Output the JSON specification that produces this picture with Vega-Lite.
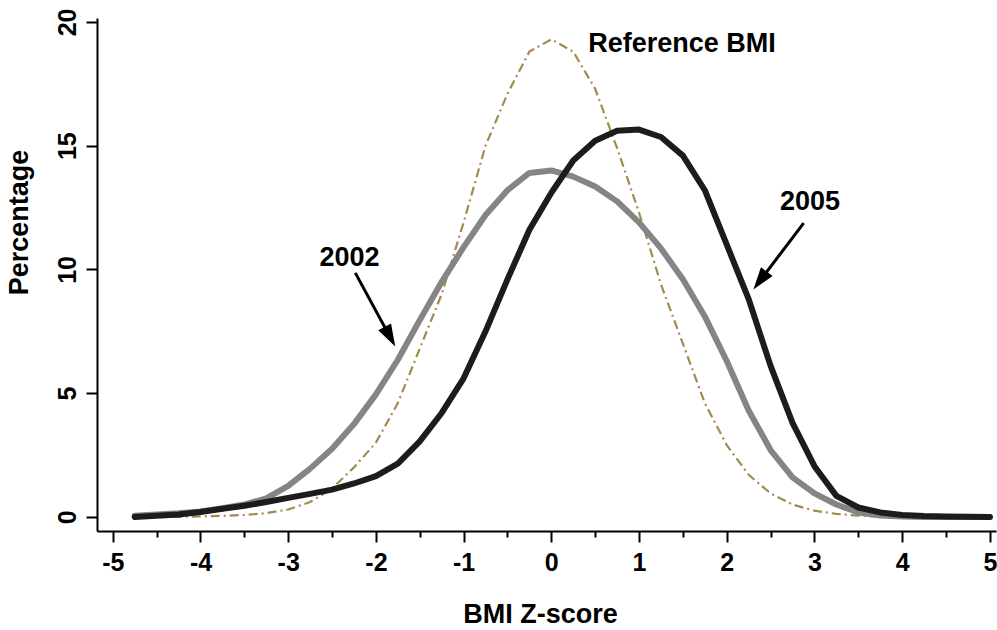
{
  "$schema": "https://vega.github.io/schema/vega-lite/v6.json",
  "width": 899,
  "height": 513,
  "autosize": {"type": "none"},
  "padding": {"left": 97, "top": 18, "right": 1, "bottom": 99},
  "background": "white",
  "config": {
    "view": {"stroke": null},
    "font": "Liberation Sans",
    "axis": {
      "domainColor": "#000000",
      "domainWidth": 2,
      "tickColor": "#000000",
      "tickWidth": 2,
      "grid": false,
      "labelFont": "Liberation Sans",
      "labelFontWeight": "bold",
      "labelFontSize": 25,
      "labelColor": "#000000",
      "titleFont": "Liberation Sans",
      "titleFontWeight": "bold",
      "titleFontSize": 27,
      "titleColor": "#000000"
    }
  },
  "datasets": {
    "curves": [
      {"z": -4.75, "ref": 0, "y2002": 0.05, "y2005": 0},
      {"z": -4.5, "ref": 0, "y2002": 0.1, "y2005": 0.05},
      {"z": -4.25, "ref": 0, "y2002": 0.15, "y2005": 0.1},
      {"z": -4, "ref": 0.02, "y2002": 0.22, "y2005": 0.2},
      {"z": -3.75, "ref": 0.04, "y2002": 0.35, "y2005": 0.33},
      {"z": -3.5, "ref": 0.08, "y2002": 0.5, "y2005": 0.45},
      {"z": -3.25, "ref": 0.15, "y2002": 0.75, "y2005": 0.6},
      {"z": -3, "ref": 0.3, "y2002": 1.25, "y2005": 0.77},
      {"z": -2.75, "ref": 0.6, "y2002": 1.95, "y2005": 0.93},
      {"z": -2.5, "ref": 1.15, "y2002": 2.75, "y2005": 1.1},
      {"z": -2.25, "ref": 2.0, "y2002": 3.75, "y2005": 1.35},
      {"z": -2, "ref": 3.0, "y2002": 4.95, "y2005": 1.65},
      {"z": -1.75, "ref": 4.6, "y2002": 6.35, "y2005": 2.15},
      {"z": -1.5, "ref": 6.8, "y2002": 7.95, "y2005": 3.05},
      {"z": -1.25, "ref": 9.0, "y2002": 9.5, "y2005": 4.2},
      {"z": -1, "ref": 11.9, "y2002": 10.9, "y2005": 5.6},
      {"z": -0.75, "ref": 15.0, "y2002": 12.2, "y2005": 7.5},
      {"z": -0.5, "ref": 17.1, "y2002": 13.2, "y2005": 9.6},
      {"z": -0.25, "ref": 18.8, "y2002": 13.9, "y2005": 11.6},
      {"z": 0, "ref": 19.3, "y2002": 14.0, "y2005": 13.1},
      {"z": 0.25, "ref": 18.8, "y2002": 13.75, "y2005": 14.4},
      {"z": 0.5, "ref": 17.3, "y2002": 13.35, "y2005": 15.2},
      {"z": 0.75, "ref": 14.9, "y2002": 12.75, "y2005": 15.6},
      {"z": 1, "ref": 12.3, "y2002": 11.9, "y2005": 15.65},
      {"z": 1.25, "ref": 9.4, "y2002": 10.85, "y2005": 15.35},
      {"z": 1.5, "ref": 7.0, "y2002": 9.6, "y2005": 14.6},
      {"z": 1.75, "ref": 4.6, "y2002": 8.1, "y2005": 13.2},
      {"z": 2, "ref": 2.9, "y2002": 6.3, "y2005": 11.0},
      {"z": 2.25, "ref": 1.7, "y2002": 4.3, "y2005": 8.8},
      {"z": 2.5, "ref": 0.95, "y2002": 2.7, "y2005": 6.1},
      {"z": 2.75, "ref": 0.5, "y2002": 1.6, "y2005": 3.8},
      {"z": 3, "ref": 0.25, "y2002": 0.95, "y2005": 2.05},
      {"z": 3.25, "ref": 0.12, "y2002": 0.5, "y2005": 0.85},
      {"z": 3.5, "ref": 0.05, "y2002": 0.18, "y2005": 0.38},
      {"z": 3.75, "ref": 0.02, "y2002": 0.06, "y2005": 0.18},
      {"z": 4, "ref": 0.01, "y2002": 0.02, "y2005": 0.08},
      {"z": 4.25, "ref": 0, "y2002": 0, "y2005": 0.04},
      {"z": 4.5, "ref": 0, "y2002": 0, "y2005": 0.02},
      {"z": 4.75, "ref": 0, "y2002": 0, "y2005": 0.01},
      {"z": 5, "ref": 0, "y2002": 0, "y2005": 0}
    ],
    "labels": [
      {"label": "Reference BMI", "z": 1.49, "pct": 18.79},
      {"label": "2002", "z": -2.30, "pct": 10.14},
      {"label": "2005", "z": 2.95, "pct": 12.40}
    ],
    "arrows": [
      {"series": "2002", "z": -2.235, "pct": 9.86, "z2": -1.84, "pct2": 7.28},
      {"series": "2005", "z": 2.877, "pct": 11.87, "z2": 2.38, "pct2": 9.55}
    ]
  },
  "layer": [
    {
      "data": {"name": "curves"},
      "mark": {"type": "line", "color": "#a38b4e", "strokeWidth": 2.2, "strokeDash": [9, 4, 2, 4]},
      "encoding": {
        "x": {
          "field": "z", "type": "quantitative",
          "scale": {"domain": [-5.18, 5.07], "nice": false, "zero": false},
          "axis": {
            "values": [-5, -4.75, -4.5, -4.25, -4, -3.75, -3.5, -3.25, -3, -2.75, -2.5, -2.25, -2, -1.75, -1.5, -1.25, -1, -0.75, -0.5, -0.25, 0, 0.25, 0.5, 0.75, 1, 1.25, 1.5, 1.75, 2, 2.25, 2.5, 2.75, 3, 3.25, 3.5, 3.75, 4, 4.25, 4.5, 4.75, 5],
            "labelExpr": "datum.value % 1 == 0 ? (datum.value < 0 ? '-' + abs(datum.value) : '' + datum.value) : ''",
            "tickSize": {"condition": {"test": "datum.value % 1 == 0", "value": 11}, "value": 6},
            "labelOverlap": false,
            "labelFlush": false,
            "labelPadding": 8,
            "title": "BMI Z-score",
            "titleX": 443,
            "titleY": 91,
            "titleAlign": "center",
            "titleBaseline": "alphabetic"
          }
        },
        "y": {
          "field": "ref", "type": "quantitative",
          "scale": {"domain": [-0.57, 20.16], "nice": false, "zero": false},
          "axis": {
            "values": [0, 5, 10, 15, 20],
            "tickSize": 11,
            "labelAngle": -90,
            "labelAlign": "center",
            "labelBaseline": "bottom",
            "labelPadding": 6,
            "title": "Percentage",
            "titleAngle": -90,
            "titleX": -70,
            "titleY": 204,
            "titleAlign": "center",
            "titleBaseline": "alphabetic"
          }
        }
      }
    },
    {
      "data": {"name": "curves"},
      "mark": {"type": "line", "color": "#858585", "strokeWidth": 6, "strokeCap": "round", "strokeJoin": "round"},
      "encoding": {
        "x": {"field": "z", "type": "quantitative"},
        "y": {"field": "y2002", "type": "quantitative"}
      }
    },
    {
      "data": {"name": "curves"},
      "mark": {"type": "line", "color": "#1c1c1c", "strokeWidth": 6, "strokeCap": "round", "strokeJoin": "round"},
      "encoding": {
        "x": {"field": "z", "type": "quantitative"},
        "y": {"field": "y2005", "type": "quantitative"}
      }
    },
    {
      "data": {"name": "labels"},
      "mark": {"type": "text", "align": "center", "baseline": "alphabetic", "fontSize": 27, "fontWeight": "bold", "font": "Liberation Sans", "color": "#000000"},
      "encoding": {
        "x": {"field": "z", "type": "quantitative"},
        "y": {"field": "pct", "type": "quantitative"},
        "text": {"field": "label"}
      }
    },
    {
      "data": {"name": "arrows"},
      "mark": {"type": "rule", "color": "#000000", "strokeWidth": 3},
      "encoding": {
        "x": {"field": "z", "type": "quantitative"},
        "y": {"field": "pct", "type": "quantitative"},
        "x2": {"field": "z2"},
        "y2": {"field": "pct2"}
      }
    },
    {
      "data": {"name": "arrows"},
      "transform": [{"filter": "datum.series == '2002'"}],
      "mark": {"type": "point", "shape": "M0,-1L-0.65,1L0.65,1Z", "filled": true, "color": "#000000", "opacity": 1, "size": 500, "angle": 151.6},
      "encoding": {
        "x": {"field": "z2", "type": "quantitative"},
        "y": {"field": "pct2", "type": "quantitative"}
      }
    },
    {
      "data": {"name": "arrows"},
      "transform": [{"filter": "datum.series == '2005'"}],
      "mark": {"type": "point", "shape": "M0,-1L-0.65,1L0.65,1Z", "filled": true, "color": "#000000", "opacity": 1, "size": 500, "angle": 216.7},
      "encoding": {
        "x": {"field": "z2", "type": "quantitative"},
        "y": {"field": "pct2", "type": "quantitative"}
      }
    }
  ]
}
